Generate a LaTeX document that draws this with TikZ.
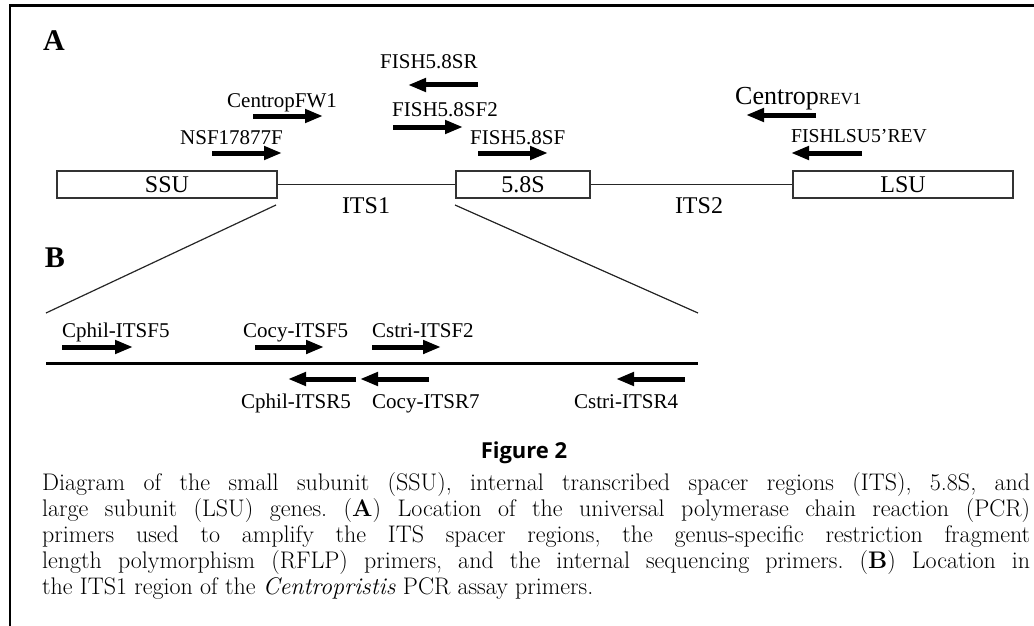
\documentclass[tikz,border=0pt]{standalone}
\usepackage{fontspec}
\newfontfamily\tnr{Liberation Serif}
\newfontfamily\figsans{Open Sans}
\usetikzlibrary{arrows.meta}
\newcommand\capfnt{\fontsize{24}{24}\selectfont\frenchspacing}
\tikzset{
  gene/.style={draw=black!80, line width=1.2pt, inner sep=0pt, minimum height=27pt,
    font=\tnr\fontsize{24}{24}\selectfont},
  spacer/.style={draw=black!85, line width=1.2pt},
  primer/.style={line width=5pt, -{Triangle[length=18pt,width=13pt]}},
  plbl/.style={anchor=base west, inner sep=0pt, font=\tnr\fontsize{21}{21}\selectfont},
  rlbl/.style={anchor=base, inner sep=0pt, font=\tnr\fontsize{24}{24}\selectfont},
  panellbl/.style={anchor=base, inner sep=0pt, font=\tnr\bfseries\fontsize{30}{30}\selectfont},
  capline/.style={anchor=base west, inner sep=0pt, font=\capfnt},
  figtitle/.style={anchor=base, inner sep=0pt, font=\figsans\bfseries\fontsize{22}{22}\selectfont}
}
\begin{document}
\begin{tikzpicture}[x=1pt,y=-1pt]
\useasboundingbox (0,0) rectangle (1034,626);
\fill[white] (0,0) rectangle (1034,626);
% frame
\draw[line width=3pt] (10,6) -- (1034,6);
\draw[line width=2.5pt] (10,4.5) -- (10,626);

% panel labels
\node[panellbl] (pA) at (54,51) {A};
\node[panellbl] (pB) at (55,267) {B};

% genes
\node[gene, minimum width=220pt] (ssu) at (167,184.5) {SSU};
\node[gene, minimum width=134pt] (s58) at (523,184.5) {5.8S};
\node[gene, minimum width=220pt] (lsu) at (903,184.5) {LSU};
\draw[spacer] (ssu.east) -- (s58.west);
\draw[spacer] (s58.east) -- (lsu.west);
\node[rlbl] (its1) at (366,213) {ITS1};
\node[rlbl] (its2) at (699,213) {ITS2};

% panel A primers
\node[plbl] (nsf) at (180,144) {NSF17877F};
\draw[primer] (212,153) -- (282,153);
\node[plbl] (cfw) at (227,107) {CentropFW1};
\draw[primer] (253,116) -- (323,116);
\node[plbl] (fsr) at (380,69) {FISH5.8SR};
\draw[primer] (478,85) -- (408,85);
\node[plbl] (fsf2) at (392,116) {FISH5.8SF2};
\draw[primer] (393,127) -- (463,127);
\node[plbl] (fsf) at (470,144) {FISH5.8SF};
\draw[primer] (478,153) -- (548,153);
\node[plbl] (crev) at (735,105) {\fontsize{26}{26}\selectfont Centrop\fontsize{17}{17}\selectfont REV1};
\draw[primer] (816,115) -- (746,115);
\node[plbl, font=\tnr\fontsize{19.7}{20}\selectfont] (flsu) at (791,142) {FISHLSU5’REV};
\draw[primer] (862,153) -- (791,153);

% zoom lines
\coordinate (dl1) at (276,205);
\coordinate (dl2) at (46,313);
\coordinate (dr1) at (455,205);
\coordinate (dr2) at (698,313);
\draw[spacer] (dl1) -- (dl2);
\draw[spacer] (dr1) -- (dr2);

% panel B
\coordinate (bl) at (46,363);
\coordinate (br) at (698,363);
\draw[line width=3pt] (bl) -- (br);
\node[plbl] (b1) at (62,337) {Cphil-ITSF5};
\draw[primer] (62,347) -- (133,347);
\node[plbl] (b2) at (243,337) {Cocy-ITSF5};
\draw[primer] (255,347) -- (324,347);
\node[plbl] (b3) at (372,337) {Cstri-ITSF2};
\draw[primer] (372,347) -- (441,347);
\draw[primer] (356,379) -- (288,379);
\node[plbl] (b4) at (241,408) {Cphil-ITSR5};
\draw[primer] (429,379) -- (360,379);
\node[plbl] (b5) at (372,408) {Cocy-ITSR7};
\draw[primer] (685,379) -- (616,379);
\node[plbl] (b6) at (574,408) {Cstri-ITSR4};

% caption
\node[figtitle] (ft) at (524,458) {Figure 2};
\node[capline] (c1) at (42,490) {\makebox[988pt][s]{Diagram of the small subunit (SSU), internal transcribed spacer regions (ITS), 5.8S, and}};
\node[capline] (c2) at (42,516) {\makebox[988pt][s]{large subunit (LSU) genes. (\textbf{A}) Location of the universal polymerase chain reaction (PCR)}};
\node[capline] (c3) at (42,542) {\makebox[988pt][s]{primers used to amplify the ITS spacer regions, the genus-specific restriction fragment}};
\node[capline] (c4) at (42,568) {\makebox[988pt][s]{length polymorphism (RFLP) primers, and the internal sequencing primers. (\textbf{B}) Location in}};
\node[capline] (c5) at (42,594) {the ITS1 region of the \textit{Centropristis} PCR assay primers.};
\end{tikzpicture}
\end{document}
